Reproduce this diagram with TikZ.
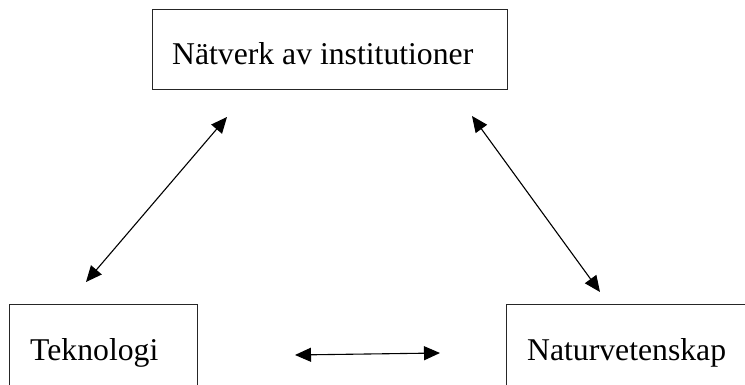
\documentclass[tikz,border=0pt]{standalone}
\usepackage{fontspec}
\setmainfont{Liberation Serif}
\usetikzlibrary{arrows.meta}
\begin{document}
\begin{tikzpicture}[x=1pt,y=-1pt,
  box/.style={draw=black!85, line width=1pt, rectangle, inner sep=0pt, anchor=north west},
  lbl/.style={font=\fontsize{31.7}{38}\selectfont, inner sep=0pt, anchor=base west},
  dbl/.style={line width=1.1pt, {Triangle[length=16pt,width=14pt]}-{Triangle[length=16pt,width=14pt]}}]
\useasboundingbox (0,0) rectangle (745,385);
\clip (0,0) rectangle (745,385);
\node[box, minimum width=355pt, minimum height=80pt] (top) at (152,9) {};
\node[lbl] (toptext) at (172,65) {Nätverk av institutioner};
\node[box, minimum width=188pt, minimum height=110pt] (tek) at (9,304) {};
\node[lbl] (tektext) at (30,360) {Teknologi};
\node[box, minimum width=260pt, minimum height=110pt] (nat) at (506,304) {};
\node[lbl] (nattext) at (527,360) {Naturvetenskap};
\coordinate (a1) at (227,117);
\coordinate (a2) at (86,282);
\coordinate (b1) at (472,116);
\coordinate (b2) at (600,292);
\coordinate (c1) at (295,355);
\coordinate (c2) at (440,353);
\draw[dbl] (a1) -- (a2);
\draw[dbl] (b1) -- (b2);
\draw[dbl] (c1) -- (c2);
\end{tikzpicture}
\end{document}
